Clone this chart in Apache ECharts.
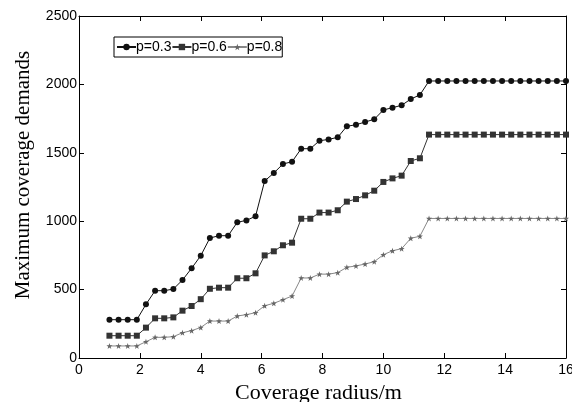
<!DOCTYPE html>
<html>
<head>
<meta charset="utf-8">
<script src="https://cdn.jsdelivr.net/npm/echarts@6/dist/echarts.min.js"></script>
<style>html,body{margin:0;padding:0;background:#fff}#c{width:572px;height:402px}</style>
</head>
<body>
<div id="c"></div>
<script>
var radius = [1,1.3,1.6,1.9,2.2,2.5,2.8,3.1,3.4,3.7,4,4.3,4.6,4.9,5.2,5.5,5.8,6.1,6.4,6.7,7,7.3,7.6,7.9,8.2,8.5,8.8,9.1,9.4,9.7,10,10.3,10.6,10.9,11.2,11.5,11.8,12.1,12.4,12.7,13,13.3,13.6,13.9,14.2,14.5,14.8,15.1,15.4,15.7,16];
var p03 = [280,280,280,280,392,492,492,504,570,656,748,877,894,894,992,1006,1036,1294,1352,1418,1435,1530,1530,1588,1598,1613,1694,1705,1725,1745,1813,1830,1847,1893,1923,2025,2025,2025,2025,2025,2025,2025,2025,2025,2025,2025,2025,2025,2025,2025,2025];
var p06 = [163,163,163,163,222,290,290,297,346,380,430,506,514,514,583,583,619,750,780,824,843,1018,1018,1063,1063,1080,1143,1162,1189,1223,1287,1313,1333,1440,1460,1633,1633,1633,1633,1633,1633,1633,1633,1633,1633,1633,1633,1633,1633,1633,1633];
var p08 = [88,88,88,88,119,151,151,156,185,200,223,270,270,270,307,317,331,382,400,426,453,585,585,613,613,624,663,673,687,704,755,784,799,875,890,1020,1020,1020,1020,1020,1020,1020,1020,1020,1020,1020,1020,1020,1020,1020,1020];
var seriesNames = ['p=0.3','p=0.6','p=0.8'];
var xTicks = {min:0, max:16, interval:2};
var yTicks = {min:0, max:2500, interval:500};

function pairs(ys){ return radius.map(function(x,i){ return [x, ys[i]]; }); }
var star = 'path://M0,-10 L2.35,-3.24 L9.51,-3.09 L3.8,1.24 L5.88,8.09 L0,4 L-5.88,8.09 L-3.8,1.24 L-9.51,-3.09 L-2.35,-3.24 Z';

var chart = echarts.init(document.getElementById('c'), null, {renderer:'canvas'});
var axisFont = {fontFamily:'Liberation Sans, Arial, sans-serif', fontSize:14, color:'#000'};
var plain = function(v){ return String(v); };
chart.setOption({
  backgroundColor:'#fff',
  animation:false,
  grid:{left:79, right:6, top:16, bottom:44, containLabel:false, outerBoundsMode:'none'},
  legend:{
    left:114, top:37, orient:'horizontal',
    itemWidth:19, itemHeight:8, itemGap:0,
    padding:[3,0,3,2],
    borderColor:'#000', borderWidth:1, backgroundColor:'#fff',
    textStyle:{fontFamily:'Liberation Sans, Arial, sans-serif', fontSize:14, color:'#000', padding:[0,0,0,-5]},
    data:seriesNames
  },
  xAxis:[{
    type:'value', min:xTicks.min, max:xTicks.max, interval:xTicks.interval,
    name:'Coverage radius/m', nameLocation:'middle', nameGap:23,
    nameTextStyle:{fontFamily:'Liberation Serif, Times New Roman, serif', fontSize:22, color:'#000', padding:[0,8,0,0]},
    axisLine:{show:true, lineStyle:{color:'#000', width:1}},
    axisTick:{show:true, inside:true, length:5, lineStyle:{color:'#000'}},
    axisLabel:Object.assign({margin:5, formatter:plain}, axisFont),
    splitLine:{show:false}
  },{
    type:'value', position:'top', min:xTicks.min, max:xTicks.max, interval:xTicks.interval,
    axisLine:{show:true, onZero:false, lineStyle:{color:'#000', width:1}},
    axisTick:{show:true, inside:true, length:5, lineStyle:{color:'#000'}},
    axisLabel:{show:false}, splitLine:{show:false}
  }],
  yAxis:[{
    type:'value', min:yTicks.min, max:yTicks.max, interval:yTicks.interval,
    name:'Maximum coverage demands', nameLocation:'middle', nameGap:45,
    nameTextStyle:{fontFamily:'Liberation Serif, Times New Roman, serif', fontSize:21, color:'#000', padding:[0,0,0,24]},
    axisLine:{show:true, lineStyle:{color:'#000', width:1}},
    axisTick:{show:true, inside:true, length:5, lineStyle:{color:'#000'}},
    axisLabel:Object.assign({margin:2, formatter:plain}, axisFont),
    splitLine:{show:false}
  },{
    type:'value', position:'right', min:yTicks.min, max:yTicks.max, interval:yTicks.interval,
    axisLine:{show:true, onZero:false, lineStyle:{color:'#000', width:1}},
    axisTick:{show:true, inside:true, length:5, lineStyle:{color:'#000'}},
    axisLabel:{show:false}, splitLine:{show:false}
  }],
  series:[
    {name:seriesNames[0], type:'line', data:pairs(p03), symbol:'circle', symbolSize:6,
     lineStyle:{color:'#111', width:1}, itemStyle:{color:'#111'}},
    {name:seriesNames[1], type:'line', data:pairs(p06), symbol:'rect', symbolSize:6,
     lineStyle:{color:'#333', width:1}, itemStyle:{color:'#333'}},
    {name:seriesNames[2], type:'line', data:pairs(p08), symbol:star, symbolSize:6,
     lineStyle:{color:'#888', width:1}, itemStyle:{color:'#666'}}
  ]
});
</script>
</body>
</html>
